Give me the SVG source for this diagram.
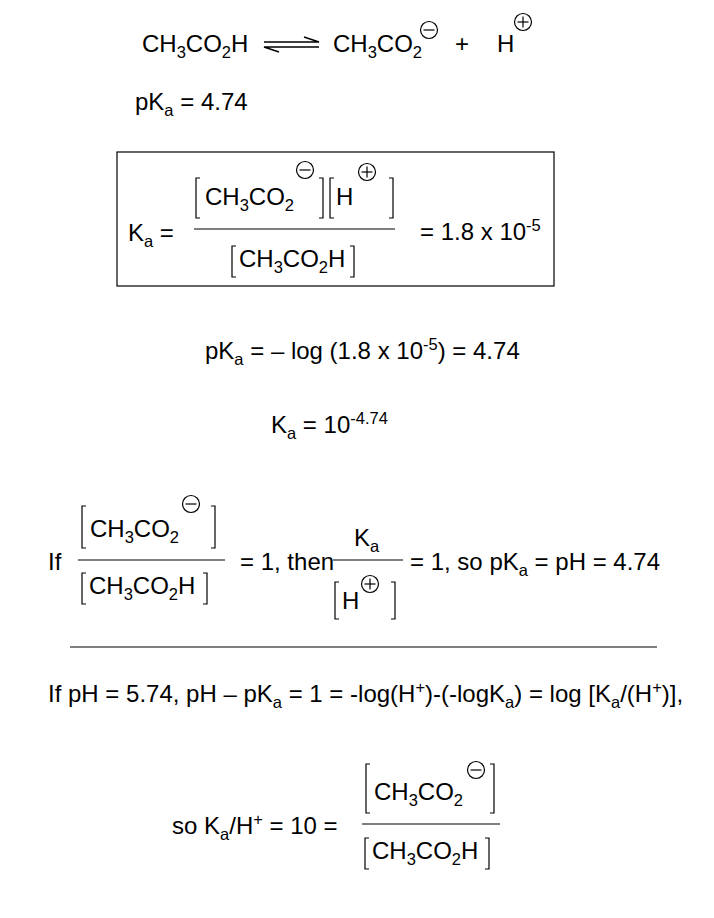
<svg xmlns="http://www.w3.org/2000/svg" width="714" height="918" viewBox="0 0 714 918">
<style>
text{font-family:"Liberation Sans",Arial,sans-serif;font-size:24px;fill:#000}
.s{font-size:16.5px}
.l{stroke:#000;stroke-width:1.4;fill:none}
.b{stroke:#000;stroke-width:1.2;fill:none}
</style>
<defs>
<g id="minus"><circle r="8.5" class="b"/><line x1="-5.5" x2="5.5" y1="0" y2="0" class="b"/></g>
<g id="plus"><circle r="8.5" class="b"/><line x1="-5.5" x2="5.5" y1="0" y2="0" class="b"/><line x1="0" x2="0" y1="-5.5" y2="5.5" class="b"/></g>
</defs>
<rect width="714" height="918" fill="#fff"/>

<g id="equilibrium">
<text x="142" y="52">CH<tspan class="s" dy="6">3</tspan><tspan dy="-6">CO</tspan><tspan class="s" dy="6">2</tspan><tspan dy="-6">H</tspan></text>
<path class="l" d="M264 42 H319 L304 37"/>
<path class="l" d="M319 47 H264 L279 52"/>
<text x="333" y="52">CH<tspan class="s" dy="6">3</tspan><tspan dy="-6">CO</tspan><tspan class="s" dy="6">2</tspan></text>
<use href="#minus" x="429" y="30"/>
<text x="455" y="52">+</text>
<text x="497" y="52">H</text>
<use href="#plus" x="523" y="22"/>
</g>

<g id="pka1"><text x="135" y="110">pK<tspan class="s" dy="6">a</tspan><tspan dy="-6"> = 4.74</tspan></text></g>

<g id="box">
<rect x="117" y="152" width="437" height="134" class="b"/>
<text x="128" y="241">K<tspan class="s" dy="6">a</tspan><tspan dy="-6"> =</tspan></text>
<path class="b" d="M200 178 H196 V218 H200 M319 178 H323 V218 H319"/>
<text x="205" y="205">CH<tspan class="s" dy="6">3</tspan><tspan dy="-6">CO</tspan><tspan class="s" dy="6">2</tspan></text>
<use href="#minus" x="305" y="170"/>
<path class="b" d="M334 178 H330 V218 H334 M389 178 H393 V218 H389"/>
<text x="336" y="205">H</text>
<use href="#plus" x="367" y="172"/>
<line x1="194" y1="229" x2="395" y2="229" class="b"/>
<path class="b" d="M236 246 H232 V277 H236 M350 246 H354 V277 H350"/>
<text x="239" y="267">CH<tspan class="s" dy="6">3</tspan><tspan dy="-6">CO</tspan><tspan class="s" dy="6">2</tspan><tspan dy="-6">H</tspan></text>
<text x="420" y="240">= 1.8 x 10<tspan class="s" dy="-9">-5</tspan></text>
</g>

<g id="pka2"><text x="205" y="359">pK<tspan class="s" dy="6">a</tspan><tspan dy="-6"> = – log (1.8 x 10</tspan><tspan class="s" dy="-9">-5</tspan><tspan dy="9">) = 4.74</tspan></text></g>

<g id="ka"><text x="271" y="433">K<tspan class="s" dy="6">a</tspan><tspan dy="-6"> = 10</tspan><tspan class="s" dy="-9">-4.74</tspan></text></g>

<g id="ifline">
<text x="48" y="570">If</text>
<path class="b" d="M86 506 H82 V548 H86 M211 506 H215 V548 H211"/>
<text x="90" y="537">CH<tspan class="s" dy="6">3</tspan><tspan dy="-6">CO</tspan><tspan class="s" dy="6">2</tspan></text>
<use href="#minus" x="191" y="504"/>
<line x1="78" y1="560" x2="225" y2="560" class="b"/>
<path class="b" d="M86 573 H82 V604 H86 M203 573 H207 V604 H203"/>
<text x="89" y="594">CH<tspan class="s" dy="6">3</tspan><tspan dy="-6">CO</tspan><tspan class="s" dy="6">2</tspan><tspan dy="-6">H</tspan></text>
<text x="240" y="570">= 1, then</text>
<text x="354" y="546">K<tspan class="s" dy="6">a</tspan></text>
<line x1="333" y1="560" x2="403" y2="560" class="b"/>
<path class="b" d="M339 582 H335 V619 H339 M391 582 H395 V619 H391"/>
<text x="342" y="609">H</text>
<use href="#plus" x="370" y="584"/>
<text x="410" y="570">= 1, so pK<tspan class="s" dy="6">a</tspan><tspan dy="-6"> = pH = 4.74</tspan></text>
</g>

<g id="rule"><line x1="70" y1="647" x2="657" y2="647" class="b"/></g>

<g id="ph"><text x="48" y="702">If pH = 5.74, pH – pK<tspan class="s" dy="6">a</tspan><tspan dy="-6"> = 1 = -log(H</tspan><tspan class="s" dy="-9">+</tspan><tspan dy="9">)-(-logK</tspan><tspan class="s" dy="6">a</tspan><tspan dy="-6">) = log [K</tspan><tspan class="s" dy="6">a</tspan><tspan dy="-6">/(H</tspan><tspan class="s" dy="-9">+</tspan><tspan dy="9">)],</tspan></text></g>

<g id="final">
<text x="172" y="834">so K<tspan class="s" dy="6">a</tspan><tspan dy="-6">/H</tspan><tspan class="s" dy="-9">+</tspan><tspan dy="9">  = 10 =</tspan></text>
<path class="b" d="M370 764 H366 V813 H370 M490 764 H494 V813 H490"/>
<text x="374" y="800">CH<tspan class="s" dy="6">3</tspan><tspan dy="-6">CO</tspan><tspan class="s" dy="6">2</tspan></text>
<use href="#minus" x="476" y="770"/>
<line x1="362" y1="824" x2="500" y2="824" class="b"/>
<path class="b" d="M369 838 H365 V869 H369 M485 838 H489 V869 H485"/>
<text x="372" y="859">CH<tspan class="s" dy="6">3</tspan><tspan dy="-6">CO</tspan><tspan class="s" dy="6">2</tspan><tspan dy="-6">H</tspan></text>
</g>
</svg>
